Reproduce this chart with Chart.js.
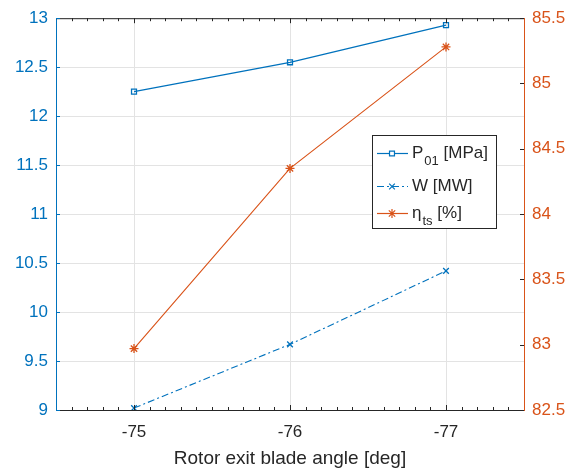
<!DOCTYPE html>
<html>
<head>
<meta charset="utf-8">
<script src="https://cdn.jsdelivr.net/npm/chart.js@4/dist/chart.umd.min.js"></script>
<style>
  html, body { margin: 0; padding: 0; background: #fff; }
  #wrap { width: 582px; height: 473px; position: relative; }
</style>
</head>
<body>
<div id="wrap"><canvas id="bladeChart"></canvas></div>
<script>
const angles = ['-75', '-76', '-77'];
const pressure = [12.25, 12.55, 12.93];     // P01 [MPa]
const power = [9.02, 9.67, 10.42];          // W [MW]
const efficiency = [82.97, 84.35, 85.28];   // eta_ts [%]

const blue = '#0072BD';
const orange = '#D95319';
const axisDark = '#262626';
const fontFamily = '"Liberation Sans", Arial, Helvetica, sans-serif';

// legend entries: main text, subscript, rest
const legendItems = [
    { main: 'P', sub: '01', rest: ' [MPa]', color: blue, dash: [], point: 'rect', radius: 3.5 },
    { main: 'W [MW]', sub: '', rest: '', color: blue, dash: [7, 3, 2, 3], point: 'crossRot', radius: 4 },
    { main: 'η', sub: 'ts', rest: ' [%]', color: orange, dash: [], point: 'star', radius: 4.5 }
];

const plainNumber = (v) => String(Number(v));

// matlab-like frame: top border, inner ticks, minor x ticks, legend box
const framePlugin = {
    id: 'frame',
    afterDraw(chart) {
        const ctx = chart.ctx;
        const area = chart.chartArea;
        const x = chart.scales.x;
        const yl = chart.scales.y;
        const yr = chart.scales.y1;
        ctx.save();
        ctx.lineWidth = 1;

        // top border
        ctx.strokeStyle = axisDark;
        ctx.beginPath();
        ctx.moveTo(area.left, area.top + 0.5);
        ctx.lineTo(area.right, area.top + 0.5);
        ctx.stroke();

        // minor ticks on x every 0.1 step (top and bottom)
        const step = (x.getPixelForValue(1) - x.getPixelForValue(0)) / 10;
        const x0 = x.getPixelForValue(0);
        ctx.beginPath();
        for (let k = -5; k <= 25; k++) {
            const px = Math.round(x0 + k * step) + 0.5;
            if (px < area.left + 1 || px > area.right - 1) continue;
            const len = (k % 10 === 0) ? 5 : 3;
            ctx.moveTo(px, area.bottom);
            ctx.lineTo(px, area.bottom - len);
            ctx.moveTo(px, area.top);
            ctx.lineTo(px, area.top + len);
        }
        ctx.stroke();

        // inner ticks on left axis
        ctx.strokeStyle = blue;
        ctx.beginPath();
        yl.ticks.forEach(t => {
            const py = Math.round(yl.getPixelForValue(t.value)) + 0.5;
            ctx.moveTo(area.left, py);
            ctx.lineTo(area.left + 4, py);
        });
        ctx.stroke();

        // inner ticks on right axis
        ctx.strokeStyle = axisDark;
        ctx.beginPath();
        yr.ticks.forEach(t => {
            const py = Math.round(yr.getPixelForValue(t.value)) + 0.5;
            ctx.moveTo(area.right, py);
            ctx.lineTo(area.right - 4, py);
        });
        ctx.stroke();

        // legend box
        const bx = 372.5, by = 135.5, bw = 124, bh = 93;
        ctx.fillStyle = '#fff';
        ctx.fillRect(bx, by, bw, bh);
        ctx.strokeStyle = axisDark;
        ctx.strokeRect(bx, by, bw, bh);

        const rows = [153, 186, 213];
        legendItems.forEach((item, i) => {
            const ry = rows[i];
            ctx.strokeStyle = item.color;
            ctx.lineWidth = 1.2;
            ctx.setLineDash(item.dash);
            ctx.beginPath();
            ctx.moveTo(377, ry + 0.5);
            ctx.lineTo(408, ry + 0.5);
            ctx.stroke();
            ctx.setLineDash([]);
            Chart.helpers.drawPoint(ctx, {
                pointStyle: item.point,
                radius: item.radius,
                borderWidth: 1.2,
                borderColor: item.color,
                backgroundColor: 'rgba(0,0,0,0)'
            }, 392, ry + 0.5);

            ctx.fillStyle = axisDark;
            ctx.textBaseline = 'middle';
            ctx.textAlign = 'left';
            ctx.font = '17px ' + fontFamily;
            let tx = 412;
            ctx.fillText(item.main, tx, ry);
            tx += ctx.measureText(item.main).width;
            if (item.sub) {
                ctx.font = '13px ' + fontFamily;
                ctx.fillText(item.sub, tx + 1, ry + 8);
                tx += ctx.measureText(item.sub).width + 1;
                ctx.font = '17px ' + fontFamily;
            }
            if (item.rest) ctx.fillText(item.rest, tx, ry);
        });
        ctx.restore();
    }
};

const config = {
    type: 'line',
    data: {
        labels: angles,
        datasets: [
            {
                label: 'P01 [MPa]',
                data: pressure,
                yAxisID: 'y',
                borderColor: blue,
                backgroundColor: 'rgba(0,0,0,0)',
                borderWidth: 1.3,
                pointStyle: 'rect',
                pointRadius: 3.5,
                pointBorderWidth: 1.3,
                pointBorderColor: blue,
                pointBackgroundColor: 'rgba(0,0,0,0)'
            },
            {
                label: 'W [MW]',
                data: power,
                yAxisID: 'y',
                borderColor: blue,
                backgroundColor: 'rgba(0,0,0,0)',
                borderWidth: 1.1,
                borderDash: [7, 3, 2, 3],
                pointStyle: 'crossRot',
                pointRadius: 4,
                pointBorderWidth: 1.3,
                pointBorderColor: blue
            },
            {
                label: 'eta_ts [%]',
                data: efficiency,
                yAxisID: 'y1',
                borderColor: orange,
                backgroundColor: 'rgba(0,0,0,0)',
                borderWidth: 1.1,
                pointStyle: 'star',
                pointRadius: 4.5,
                pointBorderWidth: 1.3,
                pointBorderColor: orange
            }
        ]
    },
    options: {
        responsive: true,
        maintainAspectRatio: false,
        animation: false,
        layout: { padding: { top: 15, left: 0, right: 0, bottom: 0 } },
        plugins: {
            legend: { display: false },
            tooltip: { enabled: false }
        },
        scales: {
            x: {
                type: 'category',
                offset: true,
                grid: { color: '#e3e3e3', drawTicks: false, offset: false },
                border: { color: axisDark, width: 1 },
                ticks: {
                    color: axisDark,
                    padding: 12,
                    font: { family: fontFamily, size: 17 }
                },
                title: {
                    display: true,
                    text: 'Rotor exit blade angle [deg]',
                    color: axisDark,
                    font: { family: fontFamily, size: 19 },
                    padding: { top: 0, bottom: 3 }
                },
                afterFit(scale) { scale.height = 63; }
            },
            y: {
                position: 'left',
                min: 9,
                max: 13,
                grid: { color: '#e3e3e3', drawTicks: false },
                border: { color: blue, width: 1 },
                ticks: {
                    stepSize: 0.5,
                    color: blue,
                    padding: 8,
                    callback: plainNumber,
                    font: { family: fontFamily, size: 17 }
                },
                afterFit(scale) { scale.width = 56; }
            },
            y1: {
                position: 'right',
                min: 82.5,
                max: 85.5,
                grid: { drawOnChartArea: false, drawTicks: false },
                border: { color: orange, width: 1 },
                ticks: {
                    stepSize: 0.5,
                    color: orange,
                    padding: 8,
                    callback: plainNumber,
                    font: { family: fontFamily, size: 17 }
                },
                afterFit(scale) { scale.width = 58; }
            }
        }
    },
    plugins: [framePlugin]
};

new Chart(document.getElementById('bladeChart'), config);
</script>
</body>
</html>
